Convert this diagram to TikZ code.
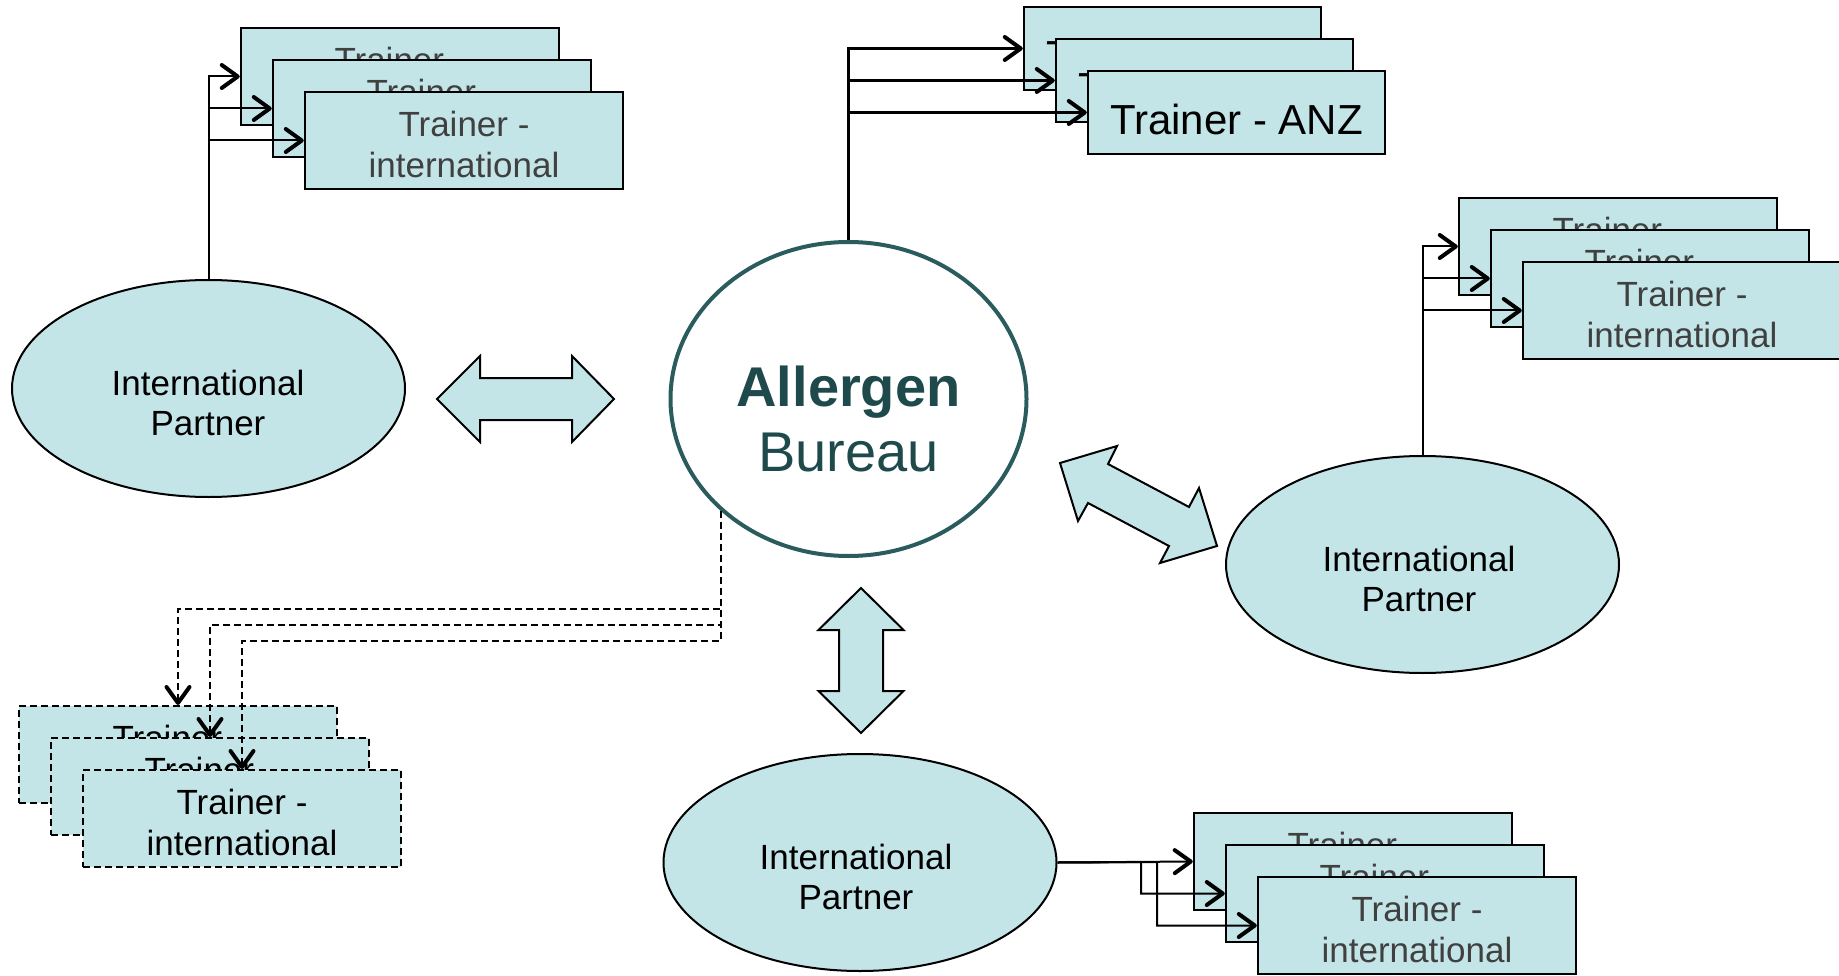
\documentclass[tikz,border=0pt]{standalone}
\usepackage{fontspec}
\setmainfont{Liberation Sans}
\usetikzlibrary{shapes.geometric,arrows.meta}
\definecolor{pale}{RGB}{196,229,232}
\definecolor{abline}{RGB}{42,92,94}
\definecolor{abtext}{RGB}{31,74,76}
\definecolor{trgray}{RGB}{64,64,64}
\newcommand\trstrut{\rule{0pt}{33pt}}
\begin{document}
\begin{tikzpicture}[x=1pt,y=-1pt,
  tbox/.style={draw=black,line width=2.5pt,fill=pale,minimum width=318pt,minimum height=97pt,inner sep=0pt,align=center,font=\fontsize{35}{41}\selectfont,text=trgray},
  dbox/.style={tbox,text=black,line width=2pt,dash pattern=on 7pt off 4pt},
  anzbox/.style={draw=black,line width=2.5pt,fill=pale,minimum width=297pt,minimum height=83pt,inner sep=0pt,font=\fontsize{42}{48}\selectfont,text=black,text height=45pt,text depth=0pt},
  partner/.style={ellipse,draw=black,line width=2pt,fill=pale,minimum width=393pt,minimum height=217pt,inner sep=0pt},
  ptext/.style={align=center,font=\fontsize{35}{40}\selectfont,text=black},
  barb/.style={-{Straight Barb[length=16pt,width=23pt,line width=4pt,round]}},
  conn/.style={barb,line width=2pt},
  thickconn/.style={barb,line width=3.5pt},
  dconn/.style={barb,line width=2pt,dash pattern=on 7pt off 4pt},
  blockarrow/.style={draw=black,line width=2pt,fill=pale,line join=miter}
]
\useasboundingbox (0,0) rectangle (1839,976);

% central bureau
\node[ellipse,draw=abline,line width=4pt,fill=white,minimum width=356pt,minimum height=314pt,inner sep=0pt] (ab) at (848.5,399) {};

% partners
\node[partner] (lp) at (208.5,388.5) {};
\node[partner] (rp) at (1422.5,564.5) {};
\node[partner] (bp) at (860,862.5) {};

% block double arrows
\draw[blockarrow] (437,399) -- (480,356) -- (480,378) -- (572,378) -- (572,356) -- (614,399) -- (572,442) -- (572,420) -- (480,420) -- (480,442) -- cycle;
\draw[blockarrow] (861,588) -- (903.5,630) -- (883,630) -- (883,691) -- (903.5,691) -- (861,733) -- (818.5,691) -- (839,691) -- (839,630) -- (818.5,630) -- cycle;
\draw[blockarrow] (1060,463) -- (1117,446) -- (1108,464) -- (1189,507) -- (1199,488) -- (1217,546) -- (1160,563) -- (1169,546) -- (1088,503) -- (1078,521) -- cycle;

% top-left trainers
\node[tbox] (lt1) at (400,76.5) {\trstrut Trainer -\\international};
\node[tbox] (lt2) at (432,108.5) {\trstrut Trainer -\\international};
\node[tbox] (lt3) at (464,140.5) {\trstrut Trainer -\\international};

% ANZ trainers
\node[anzbox] (anz1) at (1172.5,48.5) {Trainer - ANZ};
\node[anzbox] (anz2) at (1204.5,80.5) {Trainer - ANZ};
\node[anzbox] (anz3) at (1236.5,112.5) {Trainer - ANZ};

% right trainers
\node[tbox] (rt1) at (1618,246.5) {\trstrut Trainer -\\international};
\node[tbox] (rt2) at (1650,278.5) {\trstrut Trainer -\\international};
\node[tbox] (rt3) at (1682,310.5) {\trstrut Trainer -\\international};

% bottom-right trainers
\node[tbox] (bt1) at (1353,861.5) {\trstrut Trainer -\\international};
\node[tbox] (bt2) at (1385,893.5) {\trstrut Trainer -\\international};
\node[tbox] (bt3) at (1417,925.5) {\trstrut Trainer -\\international};

% dashed trainers
\node[dbox] (dt1) at (178,754.5) {\trstrut Trainer -\\international};
\node[dbox] (dt2) at (210,786.5) {\trstrut Trainer -\\international};
\node[dbox] (dt3) at (242,818.5) {\trstrut Trainer -\\international};

% connectors
\draw[conn] (lp.north) |- (lt1.west);
\draw[conn] (lp.north) |- (lt2.west);
\draw[conn] (lp.north) |- (lt3.west);

\draw[thickconn] (ab.north) |- (anz1.west);
\draw[thickconn] (ab.north) |- (anz2.west);
\draw[thickconn] (ab.north) |- (anz3.west);

\draw[conn] (rp.north) |- (rt1.west);
\draw[conn] (rp.north) |- (rt2.west);
\draw[conn] (rp.north) |- (rt3.west);

\coordinate (bj1) at (1141,862);
\coordinate (bj2) at (1157,862);
\draw[conn] (bp.east) -- (bt1.west);
\draw[conn] (bp.east) -- (bj1) |- (bt2.west);
\draw[conn] (bp.east) -- (bj2) |- (bt3.west);

\coordinate (dj1) at (178,609);
\coordinate (dj2) at (210,625);
\coordinate (dj3) at (242,641);
\draw[dconn] (ab.south west) |- (dj1) -- (dt1.north);
\draw[dconn] (ab.south west) |- (dj2) -- (dt2.north);
\draw[dconn] (ab.south west) |- (dj3) -- (dt3.north);

% texts
\node[align=center,font=\fontsize{56}{64.5}\selectfont,text=abtext] (abt) at (848.5,419) {\textbf{Allergen}\\Bureau};
\node[ptext] (lpt) at (208,403) {International\\Partner};
\node[ptext] (rpt) at (1419,579) {International\\Partner};
\node[ptext] (bpt) at (856,877) {International\\Partner};
\end{tikzpicture}
\end{document}
